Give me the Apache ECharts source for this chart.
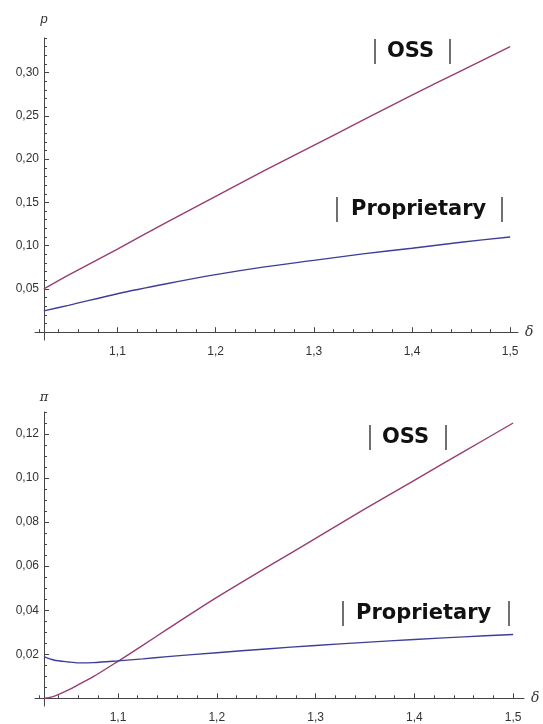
<!DOCTYPE html>
<html>
<head>
<meta charset="utf-8">
<script src="https://cdn.jsdelivr.net/npm/echarts@6/dist/echarts.min.js"></script>
<style>
  html, body { margin: 0; padding: 0; background: #fff; }
  #main { width: 543px; height: 724px; }
</style>
</head>
<body>
<div id="main"></div>
<script>
// delta values and curves
var deltaTop = [1.025, 1.05, 1.1, 1.15, 1.2, 1.25, 1.3, 1.35, 1.4, 1.45, 1.5];
var priceOSS = [0.050, 0.066, 0.096, 0.127, 0.157, 0.187, 0.216, 0.245, 0.274, 0.302, 0.330];
var priceProp = [0.0247, 0.031, 0.0445, 0.056, 0.0665, 0.0755, 0.083, 0.0905, 0.097, 0.104, 0.110];

var deltaBot = [1.025, 1.035, 1.05, 1.06, 1.075, 1.1, 1.125, 1.15, 1.2, 1.25, 1.3, 1.35, 1.4, 1.45, 1.5];
var profitOSS = [0, 0.0009, 0.0038, 0.0062, 0.0098, 0.0168, 0.024, 0.0314, 0.0458, 0.0593, 0.0726, 0.086, 0.099, 0.112, 0.125];
var profitProp = [0.0189, 0.0174, 0.0165, 0.0161, 0.0162, 0.017, 0.0179, 0.0189, 0.0207, 0.0224, 0.024, 0.0254, 0.0267, 0.0279, 0.029];

var xMajor = [1.1, 1.2, 1.3, 1.4, 1.5];
var xMinor = [1.02, 1.04, 1.06, 1.08, 1.12, 1.14, 1.16, 1.18, 1.22, 1.24, 1.26, 1.28,
              1.32, 1.34, 1.36, 1.38, 1.42, 1.44, 1.46, 1.48];
var yTopMajor = [0.05, 0.10, 0.15, 0.20, 0.25, 0.30];
var yTopMinor = [0.01, 0.02, 0.03, 0.04, 0.06, 0.07, 0.08, 0.09, 0.11, 0.12, 0.13, 0.14,
                 0.16, 0.17, 0.18, 0.19, 0.21, 0.22, 0.23, 0.24, 0.26, 0.27, 0.28, 0.29,
                 0.31, 0.32, 0.33, 0.34];
var yBotMajor = [0.02, 0.04, 0.06, 0.08, 0.10, 0.12];
var yBotMinor = [0.005, 0.01, 0.015, 0.025, 0.03, 0.035, 0.045, 0.05, 0.055, 0.065, 0.07, 0.075,
                 0.085, 0.09, 0.095, 0.105, 0.11, 0.115, 0.125, 0.13];

var colOSS = '#993d71';
var colProp = '#3e3d99';
var axisCol = '#444';
var labelFont = { color: '#333', fontSize: 12, fontFamily: 'Liberation Sans' };

function pairs(xs, ys) {
  return xs.map(function (x, i) { return [x, ys[i]]; });
}
function comma(d) {
  return function (v) { return v.toFixed(d).replace('.', ','); };
}

function xAxes(grid, max) {
  return [{
    type: 'value', gridIndex: grid, min: 1.016, max: max,
    name: 'δ', nameLocation: 'end', nameGap: 7,
    nameTextStyle: { fontStyle: 'italic', fontSize: 14, color: '#333', fontFamily: 'DejaVu Serif', verticalAlign: 'middle' },
    axisLine: { onZero: true, lineStyle: { color: axisCol, width: 1 } },
    axisTick: { inside: true, length: 5, customValues: xMajor, lineStyle: { color: axisCol } },
    axisLabel: Object.assign({ customValues: xMajor, margin: 6, formatter: comma(1) }, labelFont),
    splitLine: { show: false }
  }, {
    type: 'value', gridIndex: grid, min: 1.016, max: max, position: 'bottom',
    axisLine: { show: false, onZero: true },
    axisTick: { inside: true, length: 3, customValues: xMinor, lineStyle: { color: axisCol } },
    axisLabel: { show: false },
    splitLine: { show: false }
  }];
}

function yAxes(grid, min, max, major, minor, name, gap, font) {
  return [{
    type: 'value', gridIndex: grid, min: min, max: max, offset: -9,
    name: name, nameLocation: 'end', nameGap: gap,
    nameTextStyle: { fontStyle: 'italic', fontSize: 13, color: '#333', fontFamily: font, align: 'center' },
    axisLine: { show: true, onZero: false, lineStyle: { color: axisCol, width: 1 } },
    axisTick: { inside: true, length: 5, customValues: major, lineStyle: { color: axisCol } },
    axisLabel: Object.assign({ customValues: major, margin: 5, formatter: comma(2) }, labelFont),
    splitLine: { show: false }
  }, {
    type: 'value', gridIndex: grid, min: min, max: max, offset: -9, position: 'left',
    axisLine: { show: false, onZero: false },
    axisTick: { inside: true, length: 3, customValues: minor, lineStyle: { color: axisCol } },
    axisLabel: { show: false },
    splitLine: { show: false }
  }];
}

function curve(name, x, y, xi, yi, color) {
  return {
    name: name, type: 'line', xAxisIndex: xi, yAxisIndex: yi,
    data: pairs(x, y), showSymbol: false, smooth: 0.3,
    lineStyle: { color: color, width: 1.4 }, z: 3
  };
}

var chart = echarts.init(document.getElementById('main'));
var xs = xAxes(0, 1.508).concat(xAxes(1, 1.511));
var ys = yAxes(0, -0.009, 0.34, yTopMajor, yTopMinor, 'p', 12, 'Liberation Sans')
  .concat(yAxes(1, -0.0035, 0.13, yBotMajor, yBotMinor, 'π', 8, 'DejaVu Serif'));

function tag(txt, x1, x2, tx, cy) {
  return [
    { type: 'line', shape: { x1: x1, y1: cy - 13, x2: x1, y2: cy + 12 }, style: { stroke: '#222', lineWidth: 1.3 } },
    { type: 'line', shape: { x1: x2, y1: cy - 13, x2: x2, y2: cy + 12 }, style: { stroke: '#222', lineWidth: 1.3 } },
    { type: 'text', x: tx, y: cy, style: { text: txt, fill: '#111', font: 'bold 21px "DejaVu Sans"', textVerticalAlign: 'middle' } }
  ];
}

chart.setOption({
  animation: false,
  backgroundColor: '#fff',
  grid: [
    { left: 35, right: 25, top: 38, height: 302 },
    { left: 35, right: 19, top: 412, height: 302 }
  ],
  xAxis: xs,
  yAxis: ys,
  series: [
    curve('OSS', deltaTop, priceOSS, 0, 0, colOSS),
    curve('Proprietary', deltaTop, priceProp, 0, 0, colProp),
    curve('OSS', deltaBot, profitOSS, 2, 2, colOSS),
    curve('Proprietary', deltaBot, profitProp, 2, 2, colProp)
  ],
  graphic: []
    .concat(tag('OSS', 375, 450, 387, 52))
    .concat(tag('Proprietary', 337, 502, 351, 210))
    .concat(tag('OSS', 370, 446, 382, 438))
    .concat(tag('Proprietary', 343, 509, 356, 614))
});
</script>
</body>
</html>
